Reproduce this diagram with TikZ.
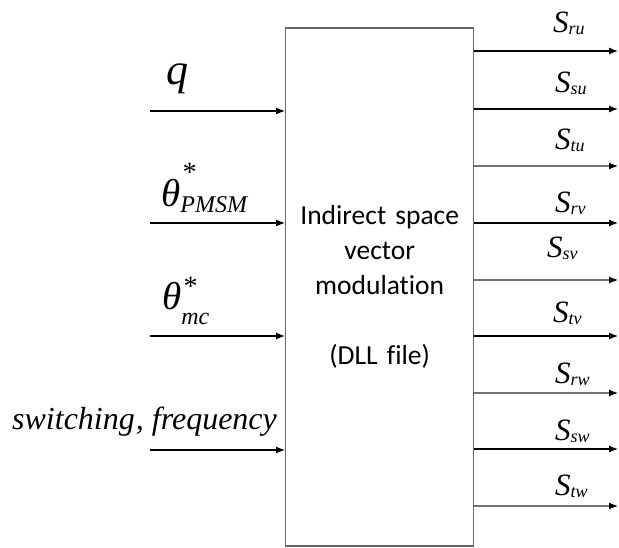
\documentclass[tikz,border=0pt]{standalone}
\usepackage{fontspec}
\setmainfont{Liberation Serif}
\newfontfamily\boxfont[Ligatures=NoCommon]{Carlito}
\usetikzlibrary{arrows.meta}
\tikzstyle{block} = [rectangle, draw=black!60, line width=1.4pt,
    minimum width=188pt, minimum height=518pt, inner sep=0pt,
    text width=180pt, align=center, font=\boxfont\fontsize{27.5}{35}\selectfont]
\tikzstyle{line} = [draw, line width=1.2pt, -{Latex[length=9pt,width=7pt,color=black]}]
\tikzstyle{grayline} = [line, draw=black!55]
\tikzstyle{sig} = [anchor=base west, inner sep=0pt,
    font=\fontsize{31}{31}\selectfont\itshape]
\newcommand{\Sx}[1]{S\raisebox{-2pt}{\fontsize{18}{18}\selectfont #1}}
\newcommand{\thx}[3]{\fontsize{39}{39}\selectfont θ\rlap{\hspace{1pt}\raisebox{#3}{\fontsize{28}{28}\selectfont *}}\raisebox{#2}{\fontsize{24}{24}\selectfont #1}}

\begin{document}
\begin{tikzpicture}[x=1pt, y=-1pt]
\useasboundingbox (0,0) rectangle (619,548);
    % Place nodes
\node[block] (isvm) at (379.7,287) {Indirect space\\ vector\\ modulation\\[35pt] (DLL file)};
\node[sig, font=\fontsize{44}{44}\selectfont\itshape] (lq) at (166,85) {q};
\node[sig] (lpmsm) at (161,207) {\thx{PMSM}{-6pt}{25pt}};
\node[sig] (lmc) at (162,310) {\thx{mc}{-14pt}{14pt}};
\node[sig, font=\fontsize{32}{32}\selectfont\itshape] (lsf) at (12,429) {switching\kern1pt, frequency};

\node[sig] (lru) at (553,33) {\Sx{ru}};
\node[sig] (lsu) at (555,93) {\Sx{su}};
\node[sig] (ltu) at (555,150) {\Sx{tu}};
\node[sig] (lrv) at (555,213) {\Sx{rv}};
\node[sig] (lsv) at (547,258) {\Sx{sv}};
\node[sig] (ltv) at (553,323) {\Sx{tv}};
\node[sig] (lrw) at (555,383) {\Sx{rw}};
\node[sig] (lsw) at (555,440) {\Sx{sw}};
\node[sig] (ltw) at (555,495) {\Sx{tw}};

\coordinate (iq) at (150,111);
\coordinate (ipmsm) at (150,223);
\coordinate (imc) at (150,336);
\coordinate (isf) at (150,450);
\coordinate (oru) at (618,51);
\coordinate (osu) at (618,109);
\coordinate (otu) at (618,166);
\coordinate (orv) at (618,223);
\coordinate (osv) at (618,280);
\coordinate (otv) at (618,336);
\coordinate (orw) at (618,393);
\coordinate (osw) at (618,449);
\coordinate (otw) at (618,506);

    % Draw edges
\path [line] (iq) -- (iq -| isvm.west);
\path [line] (ipmsm) -- (ipmsm -| isvm.west);
\path [line] (imc) -- (imc -| isvm.west);
\path [line] (isf) -- (isf -| isvm.west);
\path [line] (oru -| isvm.east) -- (oru);
\path [line] (osu -| isvm.east) -- (osu);
\path [grayline] (otu -| isvm.east) -- (otu);
\path [line] (orv -| isvm.east) -- (orv);
\path [grayline] (osv -| isvm.east) -- (osv);
\path [line] (otv -| isvm.east) -- (otv);
\path [grayline] (orw -| isvm.east) -- (orw);
\path [line] (osw -| isvm.east) -- (osw);
\path [grayline] (otw -| isvm.east) -- (otw);

\end{tikzpicture}
\end{document}
